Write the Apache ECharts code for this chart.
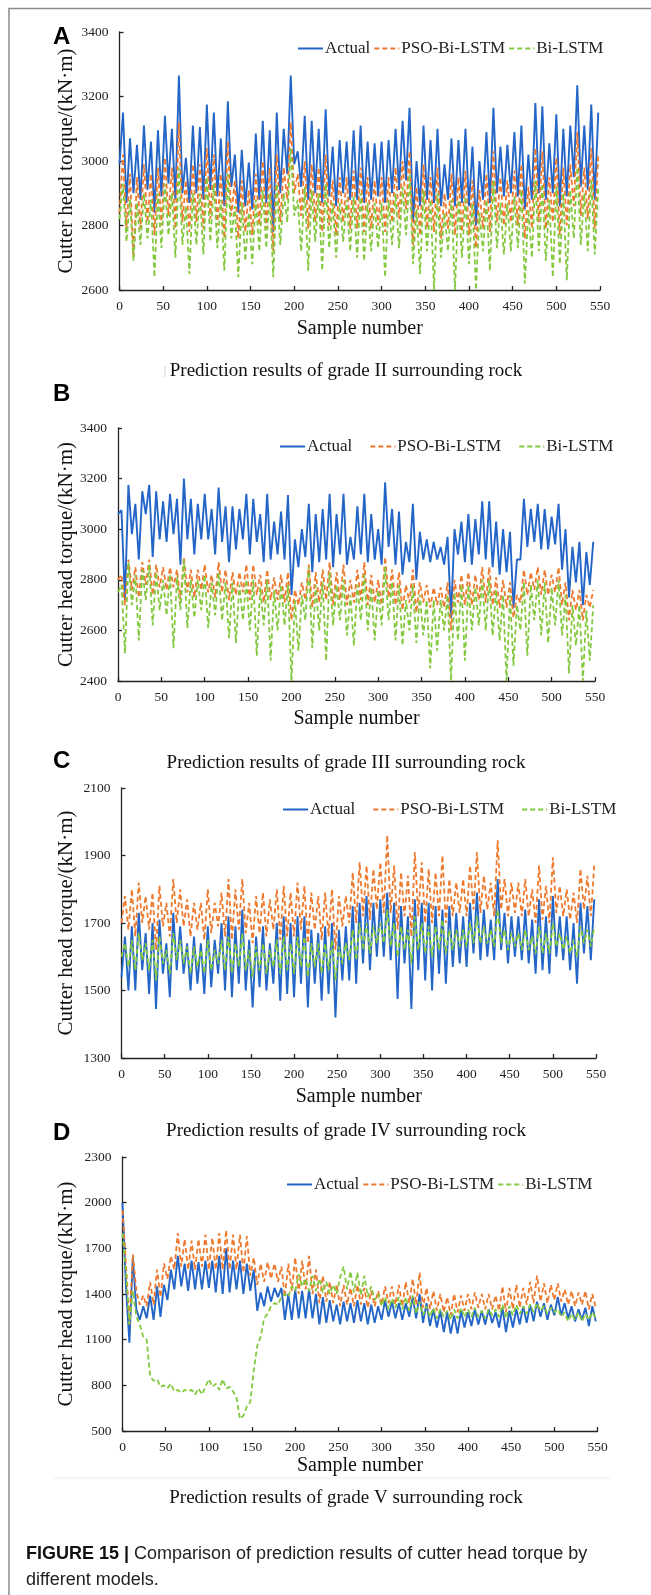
<!DOCTYPE html>
<html><head><meta charset="utf-8">
<script src="https://cdn.jsdelivr.net/npm/echarts@6/dist/echarts.min.js"></script>
<style>html,body{margin:0;padding:0;background:#fff}#c{width:651px;height:1595px}</style>
</head><body><div id="c"></div>
<script>
// ---- sample numbers (x) ----
const sampleNumbers = [
0,4,8,12,16,20,24,28,32,36,
40,44,48,52,56,60,64,68,72,76,
80,84,88,92,96,100,104,108,112,116,
120,124,128,132,136,140,144,148,152,156,
160,164,168,172,176,180,184,188,192,196,
200,204,208,212,216,220,224,228,232,236,
240,244,248,252,256,260,264,268,272,276,
280,284,288,292,296,300,304,308,312,316,
320,324,328,332,336,340,344,348,352,356,
360,364,368,372,376,380,384,388,392,396,
400,404,408,412,416,420,424,428,432,436,
440,444,448,452,456,460,464,468,472,476,
480,484,488,492,496,500,504,508,512,516,
520,524,528,532,536,540,544,548];
const xTickLabels = [0,50,100,150,200,250,300,350,400,450,500,550];
const seriesNames = ['Actual','PSO-Bi-LSTM','Bi-LSTM'];

// "even" = values at samples 0,8,16,...  "odd" = values at samples 4,12,20,...
// ---- Panel A: grade II ----
const yTicksA = [2600,2800,3000,3200,3400];
const actualA_even = [2990,2870,2900,2880,2910,2840,2890,2930,2880,2900,2870,2900,2880,2910,2890,2860,2920,2840,2860,2850,2880,2870,2780,2900,2960,2990,2920,2880,2900,2870,2890,2860,2900,2880,2880,2870,2880,2890,2870,2900,2910,2940,2810,2860,2880,2870,2860,2880,2860,2870,2860,2800,2880,2870,2900,2890,2900,2890,2850,2880,2900,2880,2900,2860,2890,2950,2920,2910,2880];
const actualA_odd = [3150,3070,3050,3110,3060,3095,3140,3100,3265,3010,3110,3105,3175,3150,3070,3185,3020,3035,2995,3085,3125,3095,3150,3100,3265,3030,3140,3125,3100,3160,3045,3065,3060,3095,3110,3060,3055,3060,3065,3100,3125,3165,3000,3110,3065,3100,2990,3070,3065,3100,3045,3000,3090,3165,3045,3050,3090,3110,3020,3180,3170,3055,3145,3100,3110,3235,3110,3175,3150];
const psoA_even = [2840,2790,2700,2790,2810,2770,2800,2830,2790,2810,2780,2810,2790,2820,2800,2760,2830,2760,2780,2770,2800,2790,2720,2810,2880,2900,2830,2790,2810,2780,2800,2770,2810,2790,2790,2780,2790,2800,2780,2810,2820,2850,2740,2770,2790,2780,2760,2790,2770,2780,2770,2730,2790,2780,2810,2800,2810,2800,2760,2790,2810,2790,2810,2770,2800,2860,2830,2820,2790];
const psoA_odd = [3020,2960,2950,2990,2960,2980,3010,2980,3120,2940,2990,2990,3040,3020,2960,3060,2940,2940,2910,2960,3000,2980,3020,2980,3120,2960,3000,2990,2980,3020,2940,2950,2950,2970,2980,2950,2940,2950,2950,2980,3000,3030,2920,2990,2950,2980,2900,2960,2950,2970,2940,2910,2960,3030,2950,2940,2970,2990,2920,3040,3030,2950,3010,2980,2990,3090,2980,3040,3020];
const biA_even = [2820,2750,2690,2740,2760,2640,2730,2770,2700,2740,2650,2740,2710,2750,2730,2660,2760,2640,2690,2680,2720,2730,2640,2740,2810,2830,2720,2660,2750,2660,2730,2700,2750,2720,2700,2690,2720,2730,2640,2740,2730,2770,2680,2650,2720,2600,2700,2720,2600,2700,2680,2600,2720,2660,2730,2710,2720,2730,2620,2700,2720,2690,2640,2680,2630,2760,2740,2720,2710];
const biA_odd = [2930,2880,2870,2900,2880,2900,2930,2900,2980,2860,2900,2900,2950,2930,2880,2960,2860,2870,2840,2880,2910,2900,2930,2900,3040,2880,2920,2910,2900,2930,2870,2870,2880,2890,2900,2870,2870,2870,2880,2900,2920,2960,2850,2910,2880,2900,2840,2880,2880,2890,2870,2840,2880,2940,2870,2870,2890,2910,2850,2940,2930,2880,2920,2900,2910,2980,2900,2940,2920];

// ---- Panel B: grade III ----
const yTicksB = [2400,2600,2800,3000,3200,3400];
const actualB_even = [3060,2720,2980,2880,3060,2890,2960,2950,2980,2860,2960,2900,2960,2960,2900,2950,2870,2920,2960,2900,2950,2870,2880,2900,2880,2740,2850,2890,2830,2870,2880,2850,2900,2860,2880,2900,2870,2880,2860,2930,2860,2820,2870,2800,2880,2870,2880,2860,2650,2900,2870,2860,2900,2880,2850,2820,2830,2690,2880,2930,2950,2920,2920,2940,2840,2730,2790,2700,2780];
const actualB_odd = [3075,3175,3100,3150,3175,3150,3110,3140,3120,3200,3120,3100,3140,3080,3165,3090,3090,3080,3140,3120,3060,3140,3030,3070,3135,2960,3000,3100,3060,3080,3140,3060,3140,2970,3090,3140,3060,3000,3185,3080,3070,2950,3100,2990,2960,2950,2930,2970,3000,3030,3060,3040,3110,3110,3030,3000,2990,2880,3120,3080,3100,3080,3050,3100,3000,2930,2950,2910,2950];
const psoB_even = [2800,2700,2760,2730,2780,2740,2770,2760,2770,2720,2750,2730,2760,2750,2730,2750,2720,2740,2750,2720,2740,2710,2720,2720,2710,2640,2700,2720,2690,2710,2720,2700,2720,2700,2710,2720,2700,2710,2700,2730,2700,2680,2710,2670,2710,2690,2700,2690,2600,2710,2700,2700,2720,2710,2700,2690,2690,2650,2710,2740,2760,2740,2740,2750,2700,2640,2680,2640,2690];
const psoB_odd = [2820,2880,2850,2870,2880,2860,2850,2850,2840,2890,2840,2840,2860,2820,2870,2840,2830,2830,2860,2860,2820,2840,2810,2820,2830,2760,2790,2860,2830,2840,2870,2830,2860,2800,2840,2870,2820,2800,2890,2840,2830,2780,2840,2790,2780,2770,2770,2790,2800,2820,2830,2820,2850,2850,2810,2800,2790,2740,2840,2830,2850,2840,2820,2850,2790,2760,2760,2740,2760];
const biB_even = [2750,2510,2700,2560,2720,2620,2680,2660,2530,2680,2610,2650,2680,2610,2660,2640,2570,2550,2640,2600,2500,2620,2480,2600,2620,2400,2520,2640,2530,2600,2480,2620,2640,2580,2540,2640,2600,2560,2620,2640,2560,2540,2600,2550,2580,2450,2520,2600,2400,2560,2480,2600,2620,2600,2580,2560,2400,2460,2600,2500,2640,2580,2550,2620,2580,2430,2540,2400,2480];
const biB_odd = [2780,2870,2820,2840,2860,2830,2800,2820,2810,2880,2800,2800,2820,2790,2830,2790,2790,2780,2800,2800,2770,2800,2760,2780,2780,2720,2740,2850,2780,2790,2830,2780,2800,2740,2780,2820,2770,2760,2850,2790,2780,2720,2780,2740,2720,2720,2720,2740,2750,2780,2780,2770,2800,2800,2760,2740,2740,2700,2790,2780,2800,2790,2770,2800,2740,2700,2700,2680,2700];

// ---- Panel C: grade IV ----
const yTicksC = [1300,1500,1700,1900,2100];
const actualC_even = [1540,1500,1500,1560,1490,1445,1550,1480,1560,1550,1500,1520,1490,1510,1550,1500,1480,1520,1500,1450,1510,1500,1520,1470,1490,1480,1520,1450,1520,1470,1490,1420,1530,1530,1520,1580,1560,1600,1600,1590,1475,1580,1445,1560,1530,1500,1550,1520,1570,1580,1570,1610,1590,1600,1590,1620,1580,1600,1590,1580,1550,1560,1550,1600,1590,1560,1520,1610,1590];
const actualC_odd = [1660,1690,1730,1670,1700,1710,1640,1730,1690,1640,1660,1640,1690,1650,1700,1720,1690,1740,1650,1660,1690,1640,1700,1720,1700,1720,1720,1680,1670,1690,1700,1680,1690,1750,1760,1780,1760,1770,1790,1760,1750,1720,1770,1760,1760,1750,1740,1750,1730,1720,1760,1790,1740,1710,1830,1730,1720,1720,1740,1710,1770,1720,1780,1720,1720,1700,1760,1750,1770];
const psoC_even = [1700,1680,1660,1700,1680,1620,1690,1660,1700,1690,1660,1680,1650,1670,1690,1660,1650,1680,1670,1640,1670,1660,1680,1650,1660,1660,1680,1640,1680,1650,1660,1620,1690,1700,1700,1720,1710,1740,1730,1730,1680,1720,1660,1720,1700,1700,1720,1700,1720,1730,1720,1740,1730,1740,1720,1740,1720,1730,1720,1720,1700,1710,1700,1730,1720,1710,1700,1740,1720];
const psoC_odd = [1780,1800,1820,1780,1790,1810,1760,1830,1800,1770,1760,1760,1800,1760,1790,1830,1800,1830,1760,1780,1790,1770,1800,1810,1790,1820,1810,1790,1780,1790,1800,1780,1780,1850,1880,1870,1860,1880,1960,1870,1850,1840,1910,1880,1860,1850,1900,1830,1820,1830,1870,1910,1840,1820,1945,1830,1820,1820,1830,1800,1870,1810,1895,1810,1800,1790,1860,1840,1870];
const biC_even = [1600,1570,1560,1590,1560,1530,1580,1550,1590,1580,1550,1570,1550,1560,1580,1560,1550,1570,1560,1540,1560,1550,1570,1550,1560,1550,1570,1540,1570,1550,1560,1530,1580,1590,1590,1620,1610,1640,1640,1630,1600,1620,1580,1620,1610,1600,1620,1610,1620,1630,1630,1640,1640,1640,1630,1640,1620,1630,1620,1620,1610,1610,1610,1630,1620,1610,1600,1640,1630];
const biC_odd = [1640,1650,1670,1640,1650,1660,1620,1670,1650,1630,1630,1620,1650,1620,1650,1660,1640,1670,1620,1630,1640,1620,1650,1660,1640,1660,1660,1640,1640,1640,1650,1630,1640,1680,1700,1700,1690,1700,1740,1700,1690,1680,1720,1700,1690,1690,1710,1680,1680,1680,1700,1720,1690,1680,1740,1680,1670,1670,1680,1660,1690,1670,1700,1670,1660,1650,1690,1680,1690];

// ---- Panel D: grade V ----
const yTicksD = [500,800,1100,1400,1700,2000,2300];
const actualD_even = [2000,1080,1300,1320,1390,1450,1460,1560,1650,1600,1620,1610,1620,1620,1650,1700,1620,1620,1600,1560,1410,1450,1440,1440,1400,1430,1420,1430,1400,1380,1360,1330,1350,1340,1360,1340,1330,1320,1360,1350,1340,1340,1380,1400,1340,1300,1290,1280,1260,1290,1280,1300,1290,1300,1280,1310,1290,1300,1320,1330,1350,1340,1330,1380,1340,1320,1300,1310,1320];
const actualD_odd = [1450,1640,1230,1240,1230,1250,1360,1430,1450,1420,1430,1430,1440,1410,1400,1410,1430,1400,1420,1290,1320,1350,1380,1230,1230,1240,1240,1240,1200,1210,1220,1200,1220,1210,1220,1200,1210,1230,1250,1240,1230,1250,1240,1210,1190,1180,1150,1140,1140,1180,1190,1200,1200,1210,1180,1150,1180,1200,1210,1220,1250,1230,1260,1260,1240,1220,1230,1190,1220];
const psoD_even = [1950,1200,1420,1390,1480,1560,1600,1650,1800,1760,1750,1760,1790,1770,1800,1820,1790,1790,1780,1640,1600,1610,1600,1580,1600,1640,1620,1650,1560,1520,1480,1460,1460,1440,1460,1440,1420,1420,1450,1450,1460,1480,1500,1540,1440,1420,1400,1380,1400,1390,1400,1410,1400,1400,1390,1450,1440,1460,1440,1480,1520,1470,1460,1470,1430,1420,1410,1420,1400];
const psoD_odd = [1600,1660,1330,1320,1330,1380,1500,1560,1580,1560,1560,1580,1560,1560,1560,1560,1560,1540,1520,1460,1480,1500,1480,1380,1420,1400,1430,1400,1340,1350,1340,1320,1330,1320,1330,1310,1320,1330,1340,1330,1320,1340,1330,1310,1300,1290,1280,1260,1280,1290,1300,1310,1300,1300,1290,1280,1300,1310,1330,1340,1350,1340,1360,1350,1330,1320,1330,1300,1310];
const biD_even = [1800,1200,1250,1120,860,840,800,810,770,770,770,780,790,790,770,780,760,580,660,900,1120,1270,1340,1380,1380,1420,1450,1420,1420,1410,1400,1400,1580,1550,1540,1520,1450,1400,1380,1370,1380,1380,1390,1350,1320,1310,1300,1290,1300,1310,1300,1310,1290,1300,1300,1330,1320,1330,1320,1330,1340,1320,1310,1300,1280,1270,1280,1270,1280];
const biD_odd = [1550,1420,1200,1100,830,790,780,760,750,760,740,740,840,810,840,790,720,600,690,1060,1240,1320,1330,1400,1450,1530,1500,1520,1500,1480,1460,1510,1430,1410,1390,1380,1360,1320,1300,1310,1300,1290,1270,1260,1250,1240,1250,1230,1240,1250,1250,1250,1240,1260,1250,1240,1260,1270,1270,1280,1290,1270,1280,1250,1220,1230,1220,1230,1240];

// ---------------------------------------------------------------
const SERIF = '"Liberation Serif","Times New Roman",serif';
const SANS = '"Liberation Sans",Arial,sans-serif';
const COLORS = ['#2465C8', '#EE7A2F', '#84C83F'];

function pairUp(even, odd) {
  return sampleNumbers.map((x, i) => [x, i % 2 === 0 ? even[i >> 1] : odd[i >> 1]]);
}

const panels = [
  {grid:{left:119.5, top:32, width:480.5, height:258}, ticks:yTicksA, data:[[actualA_even,actualA_odd],[psoA_even,psoA_odd],[biA_even,biA_odd]],
   legend:{left:292, cy:44, gap:3}, xTitleY:329, caption:'Prediction results of grade II surrounding rock', capY:371, letter:'A', letterY:37},
  {grid:{left:118, top:428, width:477, height:253}, ticks:yTicksB, data:[[actualB_even,actualB_odd],[psoB_even,psoB_odd],[biB_even,biB_odd]],
   legend:{left:274, cy:442, gap:17}, xTitleY:719, caption:'Prediction results of grade III surrounding rock', capY:763, letter:'B', letterY:394},
  {grid:{left:121.5, top:788, width:474.5, height:270}, ticks:yTicksC, data:[[actualC_even,actualC_odd],[psoC_even,psoC_odd],[biC_even,biC_odd]],
   legend:{left:277, cy:805, gap:17}, xTitleY:1097, caption:'Prediction results of grade IV surrounding rock', capY:1131, letter:'C', letterY:761},
  {grid:{left:122.5, top:1157, width:475, height:274}, ticks:yTicksD, data:[[actualD_even,actualD_odd],[psoD_even,psoD_odd],[biD_even,biD_odd]],
   legend:{left:281, cy:1180, gap:3}, xTitleY:1466, caption:'Prediction results of grade V surrounding rock', capY:1498, letter:'D', letterY:1133}
];

const grids = [], xAxes = [], yAxes = [], series = [], legends = [], graphics = [];
const axisLineStyle = {color:'#222', width:1.3};
const plain = v => String(v);

panels.forEach((p, gi) => {
  grids.push(Object.assign({containLabel:false}, p.grid));
  xAxes.push({
    type:'value', gridIndex:gi, min:xTickLabels[0], max:xTickLabels[xTickLabels.length-1],
    interval:xTickLabels[1]-xTickLabels[0],
    axisLine:{show:true, onZero:false, lineStyle:axisLineStyle},
    axisTick:{show:true, inside:true, length:4, lineStyle:axisLineStyle},
    axisLabel:{fontFamily:SERIF, fontSize:13.5, color:'#222', margin:9, formatter:plain},
    splitLine:{show:false}
  });
  yAxes.push({
    type:'value', gridIndex:gi, min:p.ticks[0], max:p.ticks[p.ticks.length-1],
    interval:p.ticks[1]-p.ticks[0],
    axisLine:{show:true, lineStyle:axisLineStyle},
    axisTick:{show:true, inside:true, length:4, lineStyle:axisLineStyle},
    axisLabel:{fontFamily:SERIF, fontSize:13.5, color:'#222', margin:11, formatter:plain},
    splitLine:{show:false}
  });
  seriesNames.forEach((name, si) => {
    series.push({
      type:'line', name, xAxisIndex:gi, yAxisIndex:gi, symbol:'none', showSymbol:false,
      data: pairUp(p.data[si][0], p.data[si][1]),
      lineStyle:{color:COLORS[si], width: si===0 ? 1.9 : 1.8, type: si===0 ? 'solid' : [5,3]},
      itemStyle:{color:COLORS[si]},
      z: 2 + si
    });
  });
  legends.push({
    data: seriesNames, left:p.legend.left, top:p.legend.cy - 9, orient:'horizontal',
    itemWidth:25, itemHeight:14, itemGap:p.legend.gap, selectedMode:false,
    itemStyle:{opacity:0, borderWidth:0, color:'rgba(0,0,0,0)'},
    textStyle:{fontFamily:SERIF, fontSize:17, color:'#222', padding:[0,0,0,-3]}
  });
  const g = p.grid;
  graphics.push({type:'text', x:66, y:g.top + g.height/2, rotation:Math.PI/2,
    style:{text:'Cutter head torque/(kN·m)', font:'21px ' + SERIF, fill:'#111', align:'center', verticalAlign:'middle', textAlign:'center', textVerticalAlign:'middle'}});
  graphics.push({type:'text', x:g.left + g.width/2, y:p.xTitleY,
    style:{text:'Sample number', font:'20px ' + SERIF, fill:'#111', align:'center', verticalAlign:'middle', textAlign:'center', textVerticalAlign:'middle'}});
  graphics.push({type:'text', x:346, y:p.capY,
    style:{text:p.caption, font:'19px ' + SERIF, fill:'#111', align:'center', verticalAlign:'middle', textAlign:'center', textVerticalAlign:'middle'}});
  graphics.push({type:'text', x:53, y:p.letterY,
    style:{text:p.letter, font:'bold 24px ' + SANS, fill:'#000', align:'left', verticalAlign:'middle', textAlign:'left', textVerticalAlign:'middle'}});
});

// frame and small decorations
graphics.push({type:'polyline', shape:{points:[[9,1595],[9,8.5],[651,8.5]]}, style:{stroke:'#8a8a8a', lineWidth:1.5, fill:'none'}, z:-1});
graphics.push({type:'line', shape:{x1:165, y1:366, x2:165, y2:377}, style:{stroke:'#cfcfcf', lineWidth:1}});
graphics.push({type:'line', shape:{x1:54, y1:1478, x2:610, y2:1478}, style:{stroke:'#ececec', lineWidth:1}});
// figure caption
graphics.push({type:'text', x:26, y:1554,
  style:{text:'{b|FIGURE 15 |} Comparison of prediction results of cutter head torque by', font:'18px ' + SANS, fill:'#222',
    rich:{b:{fontWeight:'bold', fontSize:18, fontFamily:SANS, fill:'#111'}}, align:'left', verticalAlign:'middle', textAlign:'left', textVerticalAlign:'middle'}});
graphics.push({type:'text', x:26, y:1580,
  style:{text:'different models.', font:'18px ' + SANS, fill:'#222', align:'left', verticalAlign:'middle', textAlign:'left', textVerticalAlign:'middle'}});

const chart = echarts.init(document.getElementById('c'), null, {renderer:'canvas', width:651, height:1595});
chart.setOption({
  backgroundColor:'#fff', animation:false,
  grid:grids, xAxis:xAxes, yAxis:yAxes, series, legend:legends, graphic:{elements:graphics}
});
</script></body></html>
